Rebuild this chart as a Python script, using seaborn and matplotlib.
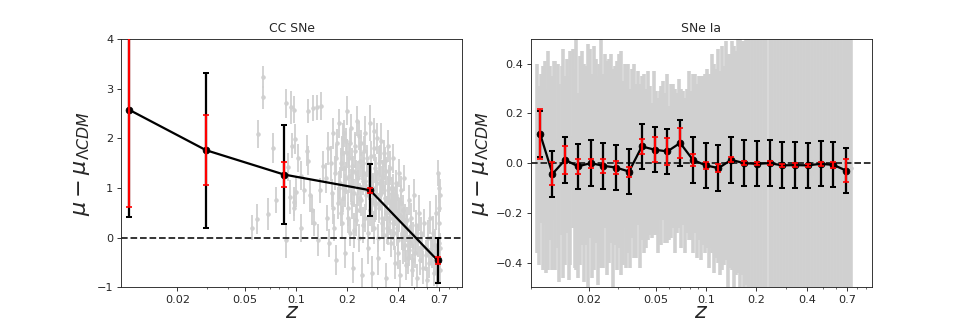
import numpy as np
import pandas as pd
import matplotlib
matplotlib.use("Agg")
import matplotlib.pyplot as plt
from matplotlib.ticker import NullFormatter
import seaborn as sns

# ---- CC SNe: individual objects (grey) ----
cc_z = [0.055, 0.059, 0.060, 0.064, 0.064, 0.073, 0.069, 0.076, 0.088, 0.090, 0.094, 0.097,
        0.099, 0.095, 0.092, 0.097, 0.101, 0.098, 0.087, 0.103, 0.108, 0.112, 0.118, 0.126,
        0.133, 0.141, 0.116, 0.118, 0.121, 0.124, 0.128, 0.135, 0.140, 0.145, 0.108,
        0.150, 0.153, 0.156, 0.158, 0.161, 0.163, 0.166, 0.168, 0.171, 0.173, 0.176, 0.178,
        0.181, 0.183, 0.185, 0.187, 0.189, 0.191, 0.193, 0.195, 0.197, 0.199, 0.201, 0.204,
        0.206, 0.208, 0.211, 0.213, 0.215, 0.218, 0.220, 0.223, 0.226, 0.228, 0.231, 0.234,
        0.236, 0.239, 0.242, 0.244, 0.247, 0.249,
        0.252, 0.255, 0.258, 0.261, 0.264, 0.267, 0.270, 0.273, 0.276, 0.279, 0.282, 0.285,
        0.288, 0.291, 0.294, 0.297, 0.300, 0.304, 0.307, 0.310, 0.313, 0.317, 0.320, 0.323,
        0.327, 0.330, 0.333, 0.337, 0.340, 0.343, 0.346, 0.349, 0.352, 0.355,
        0.358, 0.362, 0.366, 0.370, 0.374, 0.378, 0.382, 0.386, 0.390, 0.394, 0.398, 0.402,
        0.406, 0.410, 0.415, 0.419, 0.423, 0.428, 0.432, 0.437, 0.441, 0.446,
        0.452, 0.458, 0.465, 0.471, 0.478, 0.485, 0.492, 0.499, 0.506, 0.513, 0.521, 0.528,
        0.536, 0.544, 0.552, 0.560, 0.568, 0.576, 0.585, 0.593, 0.602, 0.610, 0.619, 0.628,
        0.637, 0.645, 0.653, 0.661, 0.670, 0.678, 0.686, 0.693, 0.698, 0.700, 0.702, 0.704,
        0.706, 0.708, 0.712, 0.716,
        0.165, 0.172, 0.179, 0.184, 0.188, 0.192, 0.196, 0.200, 0.203, 0.207, 0.210, 0.214,
        0.217, 0.221, 0.225, 0.229, 0.233, 0.237, 0.241, 0.245, 0.250, 0.254, 0.259, 0.263,
        0.268, 0.272, 0.277, 0.281, 0.286, 0.290, 0.295, 0.299, 0.305, 0.309, 0.315, 0.319,
        0.325, 0.329, 0.335, 0.339, 0.345, 0.350, 0.356, 0.361, 0.368, 0.373, 0.380, 0.386,
        0.393, 0.400, 0.408, 0.416, 0.425, 0.434, 0.444, 0.455, 0.468, 0.481, 0.495, 0.510]
cc_res = [0.20, 0.38, 2.08, 3.24, 2.82, 1.81, 0.48, 0.75, 2.70, 1.43, 2.62, 2.57,
          1.98, 1.85, 0.82, 0.72, 0.92, 0.60, -0.05, 1.60, 1.25, 0.95, 2.55, 2.60,
          2.62, 2.65, 1.75, 1.55, 0.85, 0.55, 0.30, -0.05, 0.95, 1.45, 0.20,
          1.20, 0.40, 1.80, -0.10, 1.50, 0.90, 2.10, 0.20, 1.30, -0.45, 1.90, 0.70,
          2.30, 1.10, 0.50, 1.70, 2.00, 0.80, 1.40, -0.30, 1.95, 1.20, 2.55, 0.60,
          1.60, 0.10, 1.05, 2.20, 1.45, -0.60, 0.90, 1.75, 1.30, 0.35, 2.35, 1.00,
          0.00, 1.55, 0.75, 1.90, -0.75, 1.15,
          1.30, 0.40, 2.10, 0.85, 1.60, -0.20, 1.05, 2.30, 0.55, 1.25, -0.70, 0.95,
          1.80, 0.20, 1.40, 0.70, 2.00, 1.10, -0.40, 0.60, 1.55, 0.90, 1.95, 0.30,
          1.20, 0.05, 1.70, 0.80, -0.80, 1.35, 0.50, 1.85, 0.15, 1.00,
          0.60, 1.40, -0.10, 0.90, 0.30, 1.60, 0.70, -0.50, 1.10, 0.20, 0.80, -0.30,
          1.30, 0.45, -0.75, 0.95, 0.10, 0.55, -0.20, 1.20, 0.35, -0.55,
          0.20, -0.40, 0.75, -0.10, 0.40, -0.65, 0.05, 0.85, -0.30, 0.25, -0.80, -0.05,
          0.50, -0.45, 0.10, -0.20, -0.60, 0.30, -0.35, -0.85, 0.00, -0.50, 0.40, -0.25,
          -0.30, 0.10, -0.70, -0.15, 0.50, -0.45, -0.90, 1.30, 1.00, 0.60, 0.30, -0.10,
          -0.40, -0.65, 0.85, -0.20,
          0.60, 1.60, 1.00, 1.50, 0.30, 2.10, 0.95, 1.70, 0.40, 1.25, 1.90, 0.70,
          1.35, 0.15, 1.85, 0.55, 1.20, 2.05, 0.80, 1.45, 0.25, 1.75, 0.95, 1.50,
          0.10, 1.15, 1.65, 0.45, 1.00, 2.15, 0.65, 1.30, 0.00, 1.50, 0.85, 1.10,
          0.40, 1.25, 0.70, 1.55, 0.20, 0.95, 1.20, 0.40, 0.75, 1.00, 0.10, 0.55,
          0.85, -0.05, 0.45, 0.70, 0.05, 0.30, -0.15, 0.35, -0.25, 0.10, -0.45, 0.00]
cc_err = [0.25, 0.30, 0.28, 0.22, 0.24, 0.30, 0.32, 0.26, 0.30, 0.28, 0.33, 0.27,
          0.30, 0.25, 0.34, 0.29, 0.31, 0.26, 0.35, 0.28, 0.30, 0.27, 0.24, 0.26,
          0.25, 0.28, 0.31, 0.29, 0.33, 0.30, 0.27, 0.32, 0.26, 0.30, 0.28,
          0.30, 0.26, 0.33, 0.28, 0.35, 0.29, 0.31, 0.27, 0.34, 0.30, 0.28, 0.32,
          0.29, 0.33, 0.27, 0.35, 0.30, 0.28, 0.34, 0.31, 0.26, 0.32, 0.29, 0.36,
          0.30, 0.27, 0.33, 0.28, 0.35, 0.31, 0.29, 0.34, 0.27, 0.32, 0.30, 0.36,
          0.28, 0.33, 0.31, 0.26, 0.34, 0.30,
          0.32, 0.28, 0.35, 0.30, 0.27, 0.33, 0.29, 0.36, 0.31, 0.28, 0.34, 0.30,
          0.26, 0.33, 0.29, 0.35, 0.31, 0.27, 0.34, 0.30, 0.32, 0.28, 0.36, 0.29,
          0.33, 0.31, 0.27, 0.35, 0.30, 0.28, 0.34, 0.32, 0.29, 0.33,
          0.30, 0.34, 0.28, 0.32, 0.35, 0.29, 0.31, 0.33, 0.27, 0.36, 0.30, 0.32,
          0.28, 0.34, 0.31, 0.29, 0.35, 0.30, 0.33, 0.27, 0.32, 0.30,
          0.28, 0.33, 0.30, 0.35, 0.29, 0.32, 0.27, 0.34, 0.31, 0.30, 0.28, 0.33,
          0.36, 0.29, 0.32, 0.30, 0.34, 0.28, 0.31, 0.27, 0.35, 0.30, 0.33, 0.29,
          0.30, 0.34, 0.28, 0.32, 0.35, 0.30, 0.27, 0.26, 0.30, 0.28, 0.32, 0.29,
          0.31, 0.27, 0.33, 0.30,
          0.32, 0.28, 0.35, 0.30, 0.33, 0.27, 0.34, 0.29, 0.31, 0.36, 0.28, 0.33,
          0.30, 0.35, 0.27, 0.32, 0.34, 0.29, 0.31, 0.28, 0.36, 0.30, 0.33, 0.27,
          0.35, 0.31, 0.29, 0.34, 0.30, 0.26, 0.33, 0.32, 0.28, 0.35, 0.30, 0.34,
          0.29, 0.31, 0.36, 0.28, 0.33, 0.30, 0.27, 0.34, 0.32, 0.29, 0.35, 0.31,
          0.28, 0.33, 0.30, 0.36, 0.29, 0.32, 0.34, 0.27, 0.31, 0.30, 0.33, 0.28]

# ---- CC SNe: binned ----
cc_bin_z = [0.0104, 0.0295, 0.0853, 0.275, 0.689]
cc_bin_res = [2.57, 1.76, 1.27, 0.955, -0.457]
cc_bin_err_tot = [2.15, 1.56, 0.99, 0.52, 0.46]
cc_bin_err_stat = [1.95, 0.71, 0.245, 0.05, 0.07]

# ---- SNe Ia: individual objects (grey) ----
ia_z = [0.0098, 0.0101, 0.0103, 0.0106, 0.0109, 0.0111, 0.0114, 0.0117, 0.0120, 0.0123,
        0.0126, 0.0130, 0.0133, 0.0137, 0.0140, 0.0144, 0.0148, 0.0151, 0.0155, 0.0160,
        0.0164, 0.0168, 0.0173, 0.0177, 0.0182, 0.0187, 0.0192, 0.0197, 0.0202, 0.0208,
        0.0213, 0.0219, 0.0225, 0.0231, 0.0237, 0.0243, 0.0250, 0.0257, 0.0264, 0.0271,
        0.0278, 0.0286, 0.0293, 0.0301, 0.0309, 0.0318, 0.0326, 0.0335, 0.0344, 0.0353,
        0.0363, 0.0373, 0.0383, 0.0393, 0.0404, 0.0415, 0.0426, 0.0437, 0.0449,
        0.0461, 0.0474, 0.0487, 0.0500, 0.0514, 0.0528, 0.0542, 0.0557, 0.0572, 0.0588,
        0.0604, 0.0620, 0.0637, 0.0655, 0.0673, 0.0691, 0.0710, 0.0729, 0.0749, 0.0770,
        0.0791, 0.0812, 0.0835, 0.0857, 0.0881, 0.0905, 0.0930, 0.0955, 0.0981,
        0.1008, 0.1036, 0.1064, 0.1093, 0.1123, 0.1154, 0.1185, 0.1218, 0.1251, 0.1285,
        0.1320, 0.1356, 0.1393, 0.1431, 0.1471, 0.1511, 0.1552, 0.1595, 0.1638, 0.1683,
        0.1729, 0.1776,
        0.182, 0.189, 0.197, 0.205, 0.213, 0.222, 0.230, 0.240, 0.249, 0.259,
        0.270, 0.280, 0.292, 0.303, 0.316, 0.328, 0.341, 0.355, 0.369, 0.384,
        0.399, 0.415, 0.432, 0.449, 0.467, 0.486, 0.505, 0.525, 0.546, 0.568,
        0.591, 0.614, 0.639, 0.665, 0.691, 0.708, 0.725, 0.740]
ia_res = [0.02, -0.05, 0.06, -0.02, 0.08, -0.07, 0.01, 0.04, -0.04, 0.09,
          -0.01, 0.03, -0.08, 0.05, 0.00, -0.03, 0.07, -0.06, 0.02, 0.10,
          -0.02, 0.04, -0.09, 0.01, 0.06, -0.04, 0.03, -0.01, 0.08, -0.05,
          0.02, 0.05, -0.07, 0.00, 0.04, -0.03, 0.09, -0.02, 0.01, 0.06,
          -0.06, 0.03, -0.01, 0.05, 0.00, -0.04, 0.07, -0.02, 0.02, -0.06,
          0.04, 0.01, -0.03, 0.06, -0.05, 0.02, 0.00, -0.02, 0.03,
          0.01, -0.03, 0.04, 0.00, -0.05, 0.03, -0.01, 0.05, -0.02, 0.02,
          -0.04, 0.01, 0.03, -0.03, 0.00, 0.04, -0.02, 0.02, -0.05, 0.01,
          0.03, -0.01, 0.00, 0.04, -0.03, 0.02, -0.02, 0.01, 0.00,
          0.02, -0.03, 0.01, 0.04, -0.02, 0.00, 0.03, -0.04, 0.02, -0.01,
          0.05, -0.03, 0.01, 0.03, -0.02, 0.00, 0.04, -0.01, 0.02, -0.03,
          0.01, 0.00,
          0.03, -0.05, 0.08, -0.02, 0.05, -0.07, 0.01, 0.06, -0.04, 0.02,
          -0.08, 0.04, 0.00, -0.03, 0.07, -0.06, 0.02, 0.05, -0.01, -0.05,
          0.03, 0.06, -0.04, 0.01, -0.07, 0.04, 0.00, -0.02, 0.05, -0.06,
          0.02, 0.07, -0.03, 0.01, -0.04, 0.03, 0.00, -0.02]
ia_err = [0.38, 0.36, 0.30, 0.41, 0.33, 0.37, 0.44, 0.35, 0.39, 0.32,
          0.42, 0.37, 0.40, 0.34, 0.46, 0.38, 0.35, 0.41, 0.43, 0.36,
          0.40, 0.47, 0.37, 0.42, 0.39, 0.44, 0.36, 0.49, 0.38, 0.41,
          0.45, 0.37, 0.42, 0.40, 0.46, 0.39, 0.35, 0.43, 0.41, 0.38,
          0.44, 0.36, 0.42, 0.39, 0.45, 0.37, 0.33, 0.40, 0.38, 0.36,
          0.34, 0.39, 0.35, 0.31, 0.37, 0.33, 0.36, 0.32, 0.34,
          0.30, 0.27, 0.33, 0.29, 0.31, 0.26, 0.32, 0.28, 0.30, 0.34,
          0.27, 0.31, 0.29, 0.33, 0.28, 0.30, 0.32, 0.27, 0.31, 0.29,
          0.34, 0.30, 0.36, 0.32, 0.35, 0.33, 0.37, 0.34, 0.36,
          0.36, 0.39, 0.35, 0.40, 0.42, 0.38, 0.43, 0.41, 0.45, 0.40,
          0.44, 0.47, 0.43, 0.46, 0.49, 0.45, 0.48, 0.51, 0.47, 0.52,
          0.50, 0.55,
          0.62, 0.66, 0.70, 0.65, 0.72, 0.68, 0.75, 0.71, 0.78, 0.74,
          0.80, 0.77, 0.83, 0.79, 0.85, 0.81, 0.88, 0.84, 0.90, 0.86,
          0.92, 0.89, 0.95, 0.91, 0.97, 0.93, 1.00, 0.96, 1.02, 0.98,
          1.05, 1.01, 1.08, 1.03, 1.10, 1.06, 1.12, 1.08]

# ---- SNe Ia: binned ----
ia_bin_z = [0.0102, 0.0121, 0.0144, 0.0172, 0.0205, 0.0244, 0.0291, 0.0347, 0.0414,
            0.0493, 0.0588, 0.0701, 0.0836, 0.0996, 0.1188, 0.1416, 0.1688, 0.2012,
            0.2398, 0.2859, 0.3408, 0.4063, 0.4843, 0.5773, 0.688]
ia_bin_res = [0.118, -0.043, 0.013, -0.013, 0.0, -0.011, -0.018, -0.034, 0.067,
              0.054, 0.047, 0.081, 0.013, -0.009, -0.020, 0.013, 0.0, -0.003,
              0.0, -0.009, -0.008, -0.009, -0.003, -0.007, -0.030]
ia_bin_err_tot = [0.092, 0.092, 0.091, 0.091, 0.091, 0.092, 0.091, 0.092, 0.090,
                  0.091, 0.091, 0.092, 0.091, 0.091, 0.092, 0.091, 0.091, 0.091,
                  0.091, 0.092, 0.092, 0.091, 0.091, 0.091, 0.092]
ia_bin_err_stat = [0.100, 0.047, 0.057, 0.029, 0.018, 0.027, 0.026, 0.020, 0.031,
                   0.049, 0.054, 0.060, 0.023, 0.013, 0.016, 0.010, 0.008, 0.006,
                   0.007, 0.007, 0.007, 0.006, 0.007, 0.011, 0.046]

xticks = [0.02, 0.05, 0.1, 0.2, 0.4, 0.7]
xticklabels = ["0.02", "0.05", "0.1", "0.2", "0.4", "0.7"]

sns.set_style("ticks")

fig, axes = plt.subplots(1, 2, figsize=(12, 4))

panels = [
    ("CC SNe", cc_z, cc_res, cc_err, cc_bin_z, cc_bin_res, cc_bin_err_tot, cc_bin_err_stat,
     (0.0093, 0.966), (-1, 4), [-1, 0, 1, 2, 3, 4], 1.6),
    ("SNe Ia", ia_z, ia_res, ia_err, ia_bin_z, ia_bin_res, ia_bin_err_tot, ia_bin_err_stat,
     (0.00897, 0.984), (-0.5, 0.5), [-0.4, -0.2, 0.0, 0.2, 0.4], 3.2),
]

for ax, (title, z, res, err, bz, bres, berr, bstat, xlim, ylim, yticks, glw) in zip(axes, panels):
    ax.set_xscale("log")
    ax.errorbar(z, res, yerr=err, fmt="o", color="#d0d0d0", ms=3, elinewidth=glw, zorder=1)
    ax.axhline(0, color="#222222", ls="--", lw=1.6, zorder=2)
    binned = pd.DataFrame({"z": bz, "res": bres})
    sns.lineplot(data=binned, x="z", y="res", ax=ax, color="black", lw=2,
                 marker="o", markersize=6, markeredgecolor="black", zorder=3)
    ax.errorbar(bz, bres, yerr=berr, fmt="none", ecolor="black", elinewidth=2,
                capsize=2.5, capthick=1.8, zorder=4)
    ax.errorbar(bz, bres, yerr=bstat, fmt="none", ecolor="red", elinewidth=2,
                capsize=2.5, capthick=1.5, zorder=5)
    ax.set_xlim(*xlim)
    ax.set_ylim(*ylim)
    ax.set_yticks(yticks)
    ax.set_xticks(xticks)
    ax.set_xticklabels(xticklabels)
    ax.xaxis.set_minor_formatter(NullFormatter())
    ax.set_title(title, fontsize=11)
    ax.set_xlabel(r"$z$", fontsize=20, labelpad=-3)
    ax.set_ylabel(r"$\mu - \mu_{\Lambda CDM}$", fontsize=20)
    ax.tick_params(labelsize=10)

fig.savefig("out.png", dpi=80.75)
